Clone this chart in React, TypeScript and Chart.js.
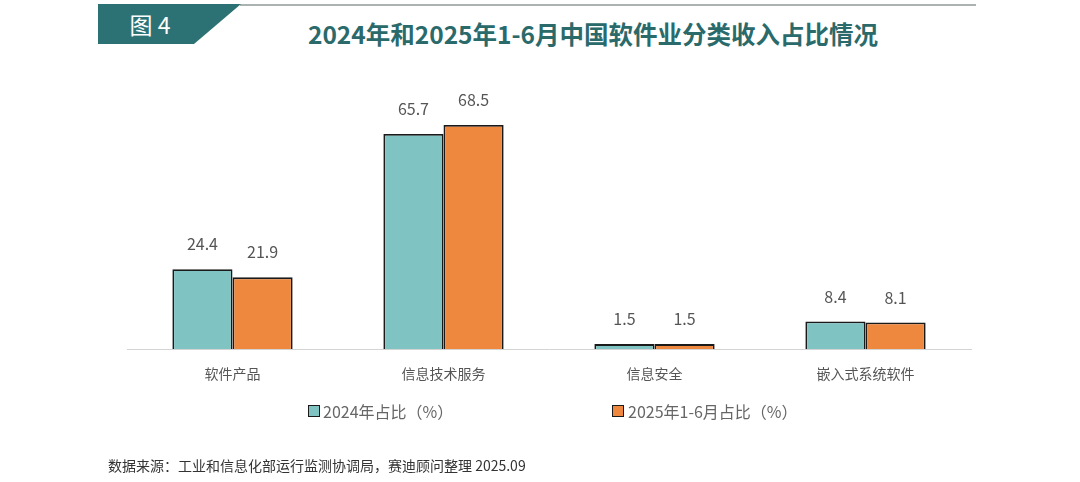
import React, { useEffect, useRef } from "react";
import { Chart, registerables } from "chart.js";

Chart.register(...registerables);

const categories = ["软件产品", "信息技术服务", "信息安全", "嵌入式系统软件"];
const series2024 = [24.4, 65.7, 1.5, 8.4];
const series2025 = [21.9, 68.5, 1.5, 8.1];
const seriesNames = ["2024年占比（%）", "2025年1-6月占比（%）"];
const titleText = "2024年和2025年1-6月中国软件业分类收入占比情况";
const figLabel = "图 4";
const sourceText = "数据来源：工业和信息化部运行监测协调局，赛迪顾问整理 2025.09";

const TEAL = "#7fc3c3";
const ORANGE = "#ef883f";
const EDGE = "#1a1a1a";
const FONT = "'Noto Sans CJK SC', 'Noto Sans', sans-serif";

const valueLabels = {
  id: "valueLabels",
  afterDatasetsDraw(chart: any) {
    const ctx = chart.ctx;
    ctx.save();
    ctx.font = `16px ${FONT}`;
    ctx.fillStyle = "#555555";
    ctx.textAlign = "center";
    ctx.textBaseline = "middle";
    chart.data.datasets.forEach((ds: any, di: number) => {
      const meta = chart.getDatasetMeta(di);
      meta.data.forEach((bar: any, i: number) => {
        ctx.fillText(String(ds.data[i]), bar.x, bar.y - 25);
      });
    });
    ctx.restore();
  },
};

export default function App() {
  const ref = useRef<HTMLCanvasElement>(null);
  useEffect(() => {
    if (!ref.current) return;
    const chart = new Chart(ref.current, {
      type: "bar",
      data: {
        labels: categories,
        datasets: [
          {
            label: seriesNames[0],
            data: series2024,
            backgroundColor: TEAL,
            borderColor: EDGE,
            borderWidth: 1.8,
          },
          {
            label: seriesNames[1],
            data: series2025,
            backgroundColor: ORANGE,
            borderColor: EDGE,
            borderWidth: 1.8,
          },
        ],
      },
      options: {
        animation: false,
        responsive: false,
        maintainAspectRatio: false,
        layout: { padding: { left: 127, right: 109, top: 120, bottom: 93 } },
        plugins: { legend: { display: false }, tooltip: { enabled: false } },
        datasets: { bar: { categoryPercentage: 0.57, barPercentage: 1 } } as any,
        scales: {
          x: {
            grid: { display: false, drawTicks: false },
            border: { display: true, color: "#d4d4d4", width: 1 },
            ticks: { color: "#555555", font: { family: FONT, size: 14 }, padding: 16 },
            afterFit: (axis: any) => {
              axis.height = 40;
            },
          },
          y: { display: false, min: 0, max: 70 },
        },
      },
      plugins: [valueLabels],
    });
    return () => chart.destroy();
  }, []);

  return (
    <div style={{ position: "absolute", left: 0, top: 0, width: 1080, height: 482, background: "#fff", fontFamily: FONT, overflow: "hidden" }}>
      <svg width={1080} height={50} style={{ position: "absolute", left: 0, top: 0 }}>
        <line x1={240} y1={5} x2={976} y2={5} stroke="#aab2b2" strokeWidth={2} />
        <polygon points="98,4 241,4 194,44 98,44" fill="#2c7274" />
      </svg>
      <div style={{ position: "absolute", left: 98, top: 4, width: 104, height: 40, lineHeight: "40px", textAlign: "center", color: "#fff", fontSize: 23 }}>
        {figLabel}
      </div>
      <div style={{ position: "absolute", left: 243, top: 17, width: 700, textAlign: "center", color: "#2b6a6b", fontSize: 24.5, fontWeight: 700, lineHeight: "34px", whiteSpace: "nowrap" }}>
        {titleText}
      </div>
      <canvas ref={ref} width={1080} height={482} style={{ position: "absolute", left: 0, top: 0, width: 1080, height: 482 }} />
      <div style={{ position: "absolute", left: 308, top: 401, display: "flex", alignItems: "center", color: "#666", fontSize: 16, lineHeight: "20px" }}>
        <span style={{ display: "inline-block", width: 10, height: 10, background: TEAL, border: `1px solid ${EDGE}`, marginRight: 3 }} />
        {seriesNames[0]}
      </div>
      <div style={{ position: "absolute", left: 612, top: 401, display: "flex", alignItems: "center", color: "#666", fontSize: 16, lineHeight: "20px" }}>
        <span style={{ display: "inline-block", width: 10, height: 10, background: ORANGE, border: `1px solid ${EDGE}`, marginRight: 4 }} />
        {seriesNames[1]}
      </div>
      <div style={{ position: "absolute", left: 108, top: 455, color: "#333", fontSize: 14, lineHeight: "20px", whiteSpace: "nowrap" }}>
        {sourceText}
      </div>
    </div>
  );
}
